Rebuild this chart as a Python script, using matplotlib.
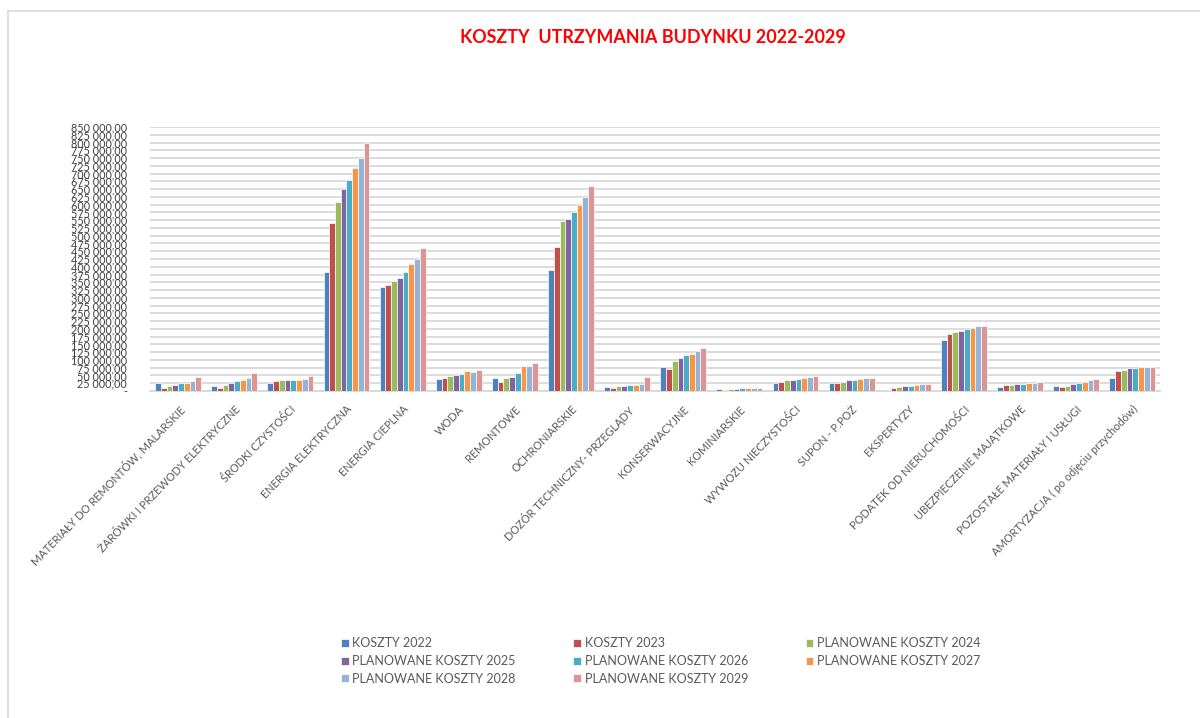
import matplotlib
matplotlib.use("Agg")
import matplotlib.pyplot as plt
import numpy as np
from matplotlib.ticker import FuncFormatter, MultipleLocator

plt.rcParams['font.family'] = ['Lato', 'DejaVu Sans']

categories = [
    "MATERIAŁY DO REMONTÓW, MALARSKIE",
    "ŻARÓWKI I PRZEWODY ELEKTRYCZNE",
    "ŚRODKI CZYSTOŚCI",
    "ENERGIA ELEKTRYCZNA",
    "ENERGIA CIEPLNA",
    "WODA",
    "REMONTOWE",
    "OCHRONIARSKIE",
    "DOZÓR TECHNICZNY- PRZEGLĄDY",
    "KONSERWACYJNE",
    "KOMINIARSKIE",
    "WYWOZU NIECZYSTOŚCI",
    "SUPON - P.POŻ",
    "EKSPERTYZY",
    "PODATEK OD NIERUCHOMOŚCI",
    "UBEZPIECZENIE MAJĄTKOWE",
    "POZOSTAŁE MATERIAŁY I USŁUGI",
    "AMORTYZACJA ( po odjęciu przychodów)",
]

series_names = [
    "KOSZTY 2022", "KOSZTY 2023", "PLANOWANE KOSZTY 2024", "PLANOWANE KOSZTY 2025",
    "PLANOWANE KOSZTY 2026", "PLANOWANE KOSZTY 2027", "PLANOWANE KOSZTY 2028",
    "PLANOWANE KOSZTY 2029",
]

koszty_2022 = [25000, 17000, 25000, 382000, 336000, 38000, 42000, 389000, 12000,
               76000, 5000, 27000, 27000, 3000, 164000, 12000, 16000, 43000]
koszty_2023 = [11000, 11000, 31000, 542000, 340000, 43000, 29000, 464000, 9000,
               72000, 3000, 30000, 27000, 9000, 183000, 19000, 12000, 66000]
plan_2024 = [17000, 21000, 35000, 608000, 353000, 48000, 42000, 549000, 15000,
             98000, 5000, 34000, 30000, 12000, 189000, 19000, 16000, 69000]
plan_2025 = [21000, 25000, 35000, 652000, 364000, 51000, 45000, 555000, 15000,
             105000, 5000, 34000, 34000, 16000, 193000, 24000, 24000, 74000]
plan_2026 = [25000, 32000, 35000, 680000, 382000, 55000, 58000, 577000, 21000,
             116000, 9000, 38000, 34000, 16000, 200000, 24000, 27000, 74000]
plan_2027 = [25000, 35000, 35000, 719000, 410000, 63000, 80000, 598000, 21000,
             119000, 9000, 42000, 38000, 19000, 203000, 27000, 30000, 76000]
plan_2028 = [31000, 43000, 40000, 751000, 425000, 62000, 80000, 626000, 23000,
             129000, 9000, 44000, 41000, 24000, 210000, 27000, 34000, 76000]
plan_2029 = [45000, 57000, 49000, 800000, 461000, 69000, 90000, 660000, 44000,
             140000, 9000, 47000, 43000, 24000, 210000, 30000, 38000, 76000]

series_values = [koszty_2022, koszty_2023, plan_2024, plan_2025,
                 plan_2026, plan_2027, plan_2028, plan_2029]

colors = ["#4F81BD", "#C0504D", "#9BBB59", "#8064A2",
          "#4BACC6", "#F79646", "#95B3D7", "#D99694"]

fig = plt.figure(figsize=(12, 7.18), dpi=100)
ax = fig.add_axes([0.125, 0.4554, 0.842, 0.3677])

x = np.arange(len(categories))
n = len(series_values)
w = 0.102
handles = []
for i, (name, vals) in enumerate(zip(series_names, series_values)):
    offs = (i - (n - 1) / 2) * w
    b = ax.bar(x + offs, vals, width=w, color=colors[i], edgecolor="white",
               linewidth=0.5, label=name, zorder=3)
    handles.append(b)

ax.set_xlim(-0.5, len(categories) - 0.5)
ax.set_ylim(0, 850000)
ax.yaxis.set_major_locator(MultipleLocator(25000))


def fmt(v, pos):
    if v == 0:
        return "-"
    s = f"{v:,.2f}".replace(",", " ").replace(".", ",")
    return s


ax.yaxis.set_major_formatter(FuncFormatter(fmt))
ax.grid(axis="y", color="#D9D9D9", linewidth=1.3, zorder=0)
for s in ["top", "right", "left"]:
    ax.spines[s].set_visible(False)
ax.spines["bottom"].set_color("#D9D9D9")
ax.spines["bottom"].set_linewidth(1.3)
ax.tick_params(axis="y", length=0, pad=16.5, labelsize=7.8, colors="#404040")
ax.tick_params(axis="x", length=0, pad=9, colors="#595959")
ax.set_xticks(x)
ax.set_xticklabels(categories, rotation=46, ha="right", va="top",
                   rotation_mode="anchor", fontsize=7.9, color="#595959")

fig.text(0.544, 0.948, "KOSZTY  UTRZYMANIA BUDYNKU 2022-2029", color="#FF0000",
         fontsize=12.9, fontweight="bold", ha="center", va="center")

order = [0, 3, 6, 1, 4, 7, 2, 5]
leg = fig.legend([handles[i] for i in order], [series_names[i] for i in order],
                 ncol=3, loc="upper left", bbox_to_anchor=(0.275, 0.128),
                 frameon=False, fontsize=9, handlelength=0.6, handleheight=0.6,
                 handletextpad=0.3, columnspacing=4.6, labelspacing=0.45,
                 labelcolor="#595959")

# outer chart frame
fig.add_artist(plt.Line2D([8 / 1200, 1.0], [1 - 11 / 718, 1 - 11 / 718],
                          color="#D9D9D9", linewidth=1.2, transform=fig.transFigure))
fig.add_artist(plt.Line2D([8 / 1200, 8 / 1200], [0, 1 - 11 / 718],
                          color="#D9D9D9", linewidth=1.2, transform=fig.transFigure))

fig.savefig("out.png", dpi=100)
